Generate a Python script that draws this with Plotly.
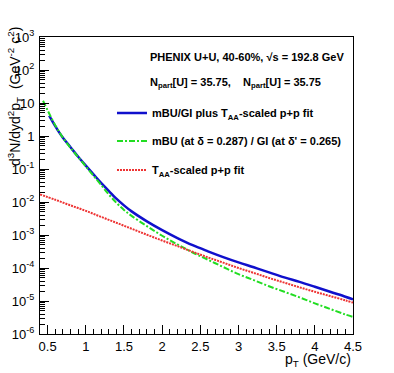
import plotly.graph_objects as go

# pT values (GeV/c) and yields
pt_sum = [0.52, 0.6, 0.66, 0.7, 0.8, 0.9, 1.0, 1.1, 1.2, 1.3, 1.4, 1.5, 1.6, 1.8, 2.0, 2.2, 2.4,
          2.6, 2.8, 3.0, 3.2, 3.4, 3.6, 3.8, 4.0, 4.2, 4.4, 4.5]
y_sum = [4.17, 2.0, 1.2, 0.89, 0.457, 0.234, 0.126, 0.069, 0.038, 0.0219, 0.0126, 7.9e-3, 5.2e-3,
         2.6e-3, 1.41e-3, 8.1e-4, 4.9e-4, 3.2e-4, 2.14e-4, 1.48e-4, 1.05e-4, 7.4e-5, 5.2e-5,
         3.8e-5, 2.7e-5, 1.9e-5, 1.35e-5, 1.12e-5]

pt_mbu = [0.44, 0.5, 0.6, 0.7, 0.8, 0.9, 1.0, 1.1, 1.2, 1.3, 1.4, 1.5, 1.6, 1.8, 2.0, 2.2, 2.4,
          2.6, 2.8, 3.0, 3.2, 3.4, 3.6, 3.8, 4.0, 4.2, 4.4, 4.5]
y_mbu = [11.7, 6.0, 2.1, 0.89, 0.437, 0.229, 0.12, 0.063, 0.033, 0.017, 9.5e-3, 5.75e-3, 3.8e-3,
         1.86e-3, 9.5e-4, 5.2e-4, 2.95e-4, 1.78e-4, 1.07e-4, 6.5e-5, 4.3e-5, 2.8e-5, 1.9e-5,
         1.29e-5, 8.5e-6, 5.75e-6, 3.9e-6, 3.3e-6]

pt_pp = [0.4, 0.6, 0.8, 1.0, 1.2, 1.4, 1.6, 1.8, 2.0, 2.2, 2.4, 2.6, 2.8, 3.0, 3.2, 3.4, 3.6,
         3.8, 4.0, 4.2, 4.4, 4.5]
y_pp = [0.017, 0.0117, 7.9e-3, 5.4e-3, 3.55e-3, 2.35e-3, 1.55e-3, 1.02e-3, 6.8e-4, 4.6e-4,
        3.1e-4, 2.1e-4, 1.45e-4, 1.0e-4, 7.1e-5, 5.0e-5, 3.6e-5, 2.6e-5, 1.9e-5, 1.41e-5,
        1.05e-5, 8.9e-6]

x_ticks = [0.5, 1, 1.5, 2, 2.5, 3, 3.5, 4, 4.5]
y_ticks = [1e-6, 1e-5, 1e-4, 1e-3, 1e-2, 1e-1, 1, 10, 100, 1000]
y_labels = ["10<sup>-6</sup>", "10<sup>-5</sup>", "10<sup>-4</sup>", "10<sup>-3</sup>",
            "10<sup>-2</sup>", "10<sup>-1</sup>", "1", "10", "10<sup>2</sup>", "10<sup>3</sup>"]

FONT = "Liberation Sans"
lfont = dict(family=FONT, size=11, color="black", weight="bold")

fig = go.Figure()
fig.add_trace(go.Scatter(x=pt_sum, y=y_sum, mode="lines", line_shape="spline",
                         line=dict(color="#1010cc", width=2.5),
                         name="mBU/GI plus T<sub>AA</sub>-scaled p+p fit", legend="legend"))
fig.add_trace(go.Scatter(x=pt_mbu, y=y_mbu, mode="lines", line_shape="spline",
                         line=dict(color="#22dd22", width=2, dash="6px,2px,2px,2px"),
                         name="mBU (at δ = 0.287) / GI (at δ' = 0.265)", legend="legend2"))
fig.add_trace(go.Scatter(x=pt_pp, y=y_pp, mode="lines", line_shape="spline",
                         line=dict(color="#ee3333", width=2, dash="2px,1px"),
                         name="T<sub>AA</sub>-scaled p+p fit", legend="legend3"))

minor_x = [round(0.4 + 0.1 * i, 2) for i in range(42)]
minor_y = [k * 10.0 ** e for e in range(-6, 3) for k in range(2, 10)]

leg = dict(font=lfont, bgcolor="rgba(0,0,0,0)", xanchor="left", yanchor="middle",
           itemwidth=30, tracegroupgap=0)

fig.update_layout(
    width=394, height=373,
    margin=dict(l=40, r=41, t=37, b=39),
    paper_bgcolor="white", plot_bgcolor="white",
    font=dict(family=FONT, size=12, color="black"),
    xaxis=dict(range=[0.4, 4.5], tickvals=x_ticks, ticktext=[str(v) for v in x_ticks],
               ticks="inside", ticklen=9, tickcolor="black", showline=True, linecolor="black",
               linewidth=1, mirror=True, showgrid=False, zeroline=False, automargin=False,
               tickfont=dict(size=13),
               minor=dict(tickvals=minor_x, ticks="inside", ticklen=5, tickcolor="black")),
    yaxis=dict(type="log", range=[-6, 3], tickvals=y_ticks, ticktext=y_labels,
               ticks="inside", ticklen=9, tickcolor="black", showline=True, linecolor="black",
               linewidth=1, mirror=True, showgrid=False, zeroline=False, automargin=False,
               tickfont=dict(size=13), ticklabelstandoff=2,
               minor=dict(tickvals=minor_y, ticks="inside", ticklen=5, tickcolor="black")),
    legend=dict(leg, x=0.23, y=0.744),
    legend2=dict(leg, x=0.23, y=0.650),
    legend3=dict(leg, x=0.23, y=0.552),
    showlegend=True,
)

fig.add_annotation(text="PHENIX U+U, 40-60%, √s = 192.8 GeV", xref="paper", yref="paper",
                   x=0.345, y=0.933, xanchor="left", yanchor="middle", showarrow=False,
                   font=lfont)
fig.add_annotation(text="N<sub>part</sub>[U] = 35.75,\u00a0\u00a0\u00a0 N<sub>part</sub>[U] = 35.75",
                   xref="paper", yref="paper", x=0.345, y=0.845, xanchor="left",
                   yanchor="middle", showarrow=False, font=lfont)
fig.add_annotation(text="d<sup>3</sup>N/dyd<sup>2</sup>p<sub>T</sub>\u00a0 (GeV<sup>-2</sup> c<sup>2</sup>)",
                   xref="paper", yref="paper", x=-0.082, y=1.04, xanchor="center",
                   yanchor="top", textangle=-90, showarrow=False,
                   font=dict(family=FONT, size=14, color="black"))
fig.add_annotation(text="p<sub>T</sub> (GeV/c)", xref="paper", yref="paper", x=1.0, y=-0.052,
                   xanchor="right", yanchor="top", showarrow=False,
                   font=dict(family=FONT, size=14, color="black"))

# page body has a default 8px margin, drop it so the figure fills the window
fig.write_html("out.html", config={"displayModeBar": False},
               post_script="document.body.style.margin='0';")
